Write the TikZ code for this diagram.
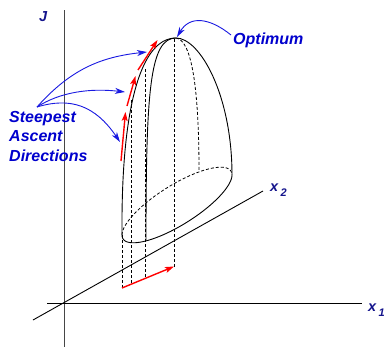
\documentclass[tikz,border=0pt]{standalone}
\usepackage{fontspec}
\setmainfont{Liberation Sans}
\usetikzlibrary{arrows.meta}
\definecolor{lblue}{RGB}{20,20,140}
\definecolor{ablue}{RGB}{0,0,205}
\definecolor{cblue}{RGB}{25,25,225}
\definecolor{axgray}{RGB}{70,70,70}
\begin{document}
\begin{tikzpicture}[x=1pt,y=-1pt,
  axis/.style={line width=0.9pt},
  surf/.style={line width=0.9pt},
  hid/.style={line width=0.8pt, dash pattern=on 3pt off 2pt},
  ascent/.style={red, line width=1.4pt, -{Stealth[length=9pt,width=6pt,inset=2pt]}},
  callout/.style={cblue, line width=0.9pt, -{Stealth[length=10pt,width=6pt,inset=3pt]}},
  annot/.style={ablue, font=\fontsize{16}{19}\selectfont\bfseries\itshape, inner sep=0pt},
  axlabel/.style={lblue, font=\fontsize{14.5}{16}\selectfont\bfseries\itshape, inner sep=0pt}]
\useasboundingbox (0,0) rectangle (386,348);
% axes
\coordinate (Jtop) at (64,10);
\coordinate (Jbot) at (64,347);
\coordinate (x1l) at (47,303);
\coordinate (x1r) at (362,303);
\coordinate (x2l) at (33,320);
\coordinate (x2r) at (263,191);
\draw[axis, axgray] (Jtop) -- (Jbot);
\draw[axis] (x1l) -- (x1r);
\draw[axis] (x2l) -- (x2r);
\node[axlabel, anchor=base west] (Jlab) at (39,21) {J};
\node[axlabel, anchor=base west] (x1lab) at (368,311) {x\,\raisebox{-5pt}{\fontsize{11}{11}\selectfont 1}};
\node[axlabel, anchor=base west] (x2lab) at (270,191) {x\,\raisebox{-5pt}{\fontsize{11}{11}\selectfont 2}};
% surface
\coordinate (peak) at (176,38);
\coordinate (bl) at (122,235);
\coordinate (br) at (232,175);
\coordinate (inb) at (146,240);
\coordinate (bk) at (199,171);
\draw[surf] (bl) .. controls (121,110) and (140,38) .. (peak)
  .. controls (200,38) and (232,95) .. (br);
\draw[surf] (inb) .. controls (146,90) and (150,38) .. (peak);
\draw[surf] plot[domain=0:180, samples=60] ({177+55*cos(\x)},{205-30*cos(\x)+23*sin(\x)});
\draw[hid] plot[domain=180:360, samples=60] ({177+55*cos(\x)},{205-30*cos(\x)+23*sin(\x)});
\draw[hid] (peak) .. controls (192,40) and (199,90) .. (bk);
% projections
\coordinate (p1) at (131,100);
\coordinate (p2) at (145,69);
\coordinate (p3) at (174,39);
\coordinate (q0) at (122,288);
\coordinate (q1) at (131,284.5);
\coordinate (q2) at (145,278.5);
\coordinate (q3) at (174,266.5);
\draw[hid] (bl) -- (q0);
\draw[hid] (p1) -- (q1);
\draw[hid] (p2) -- (q2);
\draw[hid] (p3) -- (q3);
\draw[ascent] (q0) -- (q3);
% ascent steps
\coordinate (a0) at (121,161);
\coordinate (a0t) at (125.5,112);
\coordinate (a1) at (127,106);
\coordinate (a1t) at (135.5,76);
\coordinate (a2) at (138,70);
\coordinate (a2t) at (157.5,40);
\draw[ascent] (a0) -- (a0t);
\draw[ascent] (a1) -- (a1t);
\draw[ascent] (a2) -- (a2t);
% annotations
\node[annot, anchor=base west] (steep) at (9,122) {Steepest};
\node[annot, anchor=base west] (ascent) at (9,141.5) {Ascent};
\node[annot, anchor=base west] (dirs) at (9,161) {Directions};
\coordinate (s0) at (37,107);
\coordinate (c1) at (147,52);
\coordinate (c2) at (125,92);
\coordinate (c3) at (120,142);
\draw[callout] (s0) .. controls (70,70) and (100,57) .. (c1);
\draw[callout] (s0) .. controls (60,92) and (90,88) .. (c2);
\draw[callout] (s0) .. controls (70,97) and (95,105) .. (c3);
\node[annot, anchor=base west] (opt) at (233,45) {Optimum};
\coordinate (o0) at (231,35);
\coordinate (ot) at (177,37);
\draw[callout] (o0) .. controls (210,18) and (190,15) .. (ot);
\end{tikzpicture}
\end{document}
